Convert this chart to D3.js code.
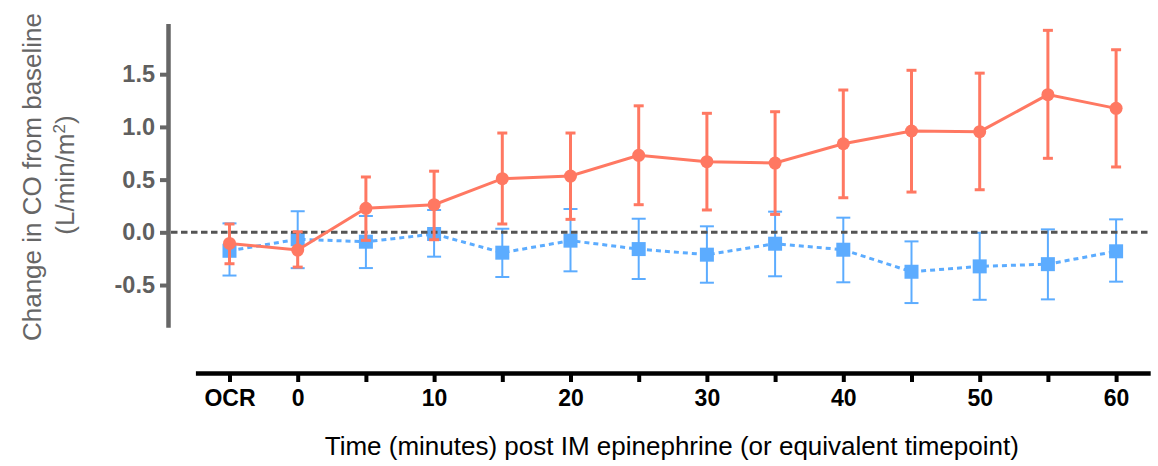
<!DOCTYPE html>
<html>
<head>
<meta charset="utf-8">
<script src="https://cdn.jsdelivr.net/npm/d3@7"></script>
<style>
  html, body { margin: 0; padding: 0; background: #fff; }
  svg { display: block; font-family: Arial, "Liberation Sans", Helvetica, sans-serif; }
</style>
</head>
<body>
<svg id="chart" width="1158" height="466"></svg>
<script>
// Timepoints: OCR, then minutes after IM epinephrine
const categories = ["OCR", "0", "5", "10", "15", "20", "25", "30", "35", "40", "45", "50", "55", "60"];
const tickLabels = ["OCR", "0", "", "10", "", "20", "", "30", "", "40", "", "50", "", "60"];

// Epinephrine group (red, circles): mean change and error bar ends
const epiMean  = [-0.105, -0.168, 0.228, 0.262, 0.509, 0.534, 0.730, 0.670, 0.657, 0.840, 0.961, 0.955, 1.306, 1.176];
const epiUpper = [0.079, 0.005, 0.525, 0.580, 0.942, 0.942, 1.200, 1.129, 1.144, 1.350, 1.537, 1.510, 1.916, 1.732];
const epiLower = [-0.298, -0.330, -0.076, -0.070, 0.079, 0.123, 0.262, 0.212, 0.170, 0.328, 0.382, 0.404, 0.702, 0.620];

// Comparison group (blue, squares, dashed)
const ctlMean  = [-0.175, -0.066, -0.089, -0.016, -0.193, -0.079, -0.159, -0.212, -0.108, -0.165, -0.374, -0.323, -0.302, -0.180];
const ctlUpper = [0.085, 0.200, 0.155, 0.212, 0.034, 0.221, 0.129, 0.057, 0.196, 0.139, -0.086, -0.004, 0.028, 0.123];
const ctlLower = [-0.410, -0.340, -0.339, -0.231, -0.424, -0.370, -0.443, -0.478, -0.417, -0.474, -0.671, -0.640, -0.636, -0.468];

const yTicks = [-0.5, 0, 0.5, 1.0, 1.5];
const yExtent = [-0.9, 1.98];

const RED = "#ff7862";
const BLUE = "#5cacff";
const AXIS_GREY = "#666666";
const FONT = "Arial, 'Liberation Sans', Helvetica, sans-serif";

const svg = d3.select("#chart");

const x = d3.scalePoint().domain(categories).range([195.4, 1150.2]).padding(0.5);
const y = d3.scaleLinear().domain(yExtent).range([327.2, 23.6]);

// ---- Y axis ----
const fmt = d3.format(".1f");
const yAxis = d3.axisLeft(y).tickValues(yTicks)
  .tickFormat(d => fmt(d).replace("\u2212", "-"))
  .tickSize(8).tickSizeOuter(0).tickPadding(5);
const gy = svg.append("g").attr("transform", "translate(168,0)").call(yAxis);
gy.select(".domain").attr("stroke", AXIS_GREY).attr("stroke-width", 4.5);
gy.selectAll(".tick line").attr("stroke", AXIS_GREY).attr("stroke-width", 4);
gy.selectAll(".tick text")
  .attr("fill", "#5f5f5f")
  .attr("font-size", 23.5)
  .attr("font-weight", "bold")
  .attr("font-family", FONT);

// ---- X axis ----
const xAxis = d3.axisBottom(x).tickSize(9).tickSizeOuter(0).tickPadding(8)
  .tickFormat((d, i) => tickLabels[i]);
const gx = svg.append("g").attr("transform", "translate(0,373)").call(xAxis);
gx.select(".domain").attr("stroke", "#000").attr("stroke-width", 4.5);
gx.selectAll(".tick line").attr("stroke", "#000").attr("stroke-width", 4);
gx.selectAll(".tick text")
  .attr("fill", "#000")
  .attr("font-size", 23)
  .attr("font-weight", "bold")
  .attr("font-family", FONT);

// ---- Axis titles ----
const yTitle = svg.append("text")
  .attr("transform", "translate(41,177) rotate(-90)")
  .attr("text-anchor", "middle")
  .attr("fill", AXIS_GREY)
  .attr("font-size", 26);
yTitle.append("tspan").attr("x", 0).attr("y", 0).text("Change in CO from baseline");
const yTitle2 = svg.append("text")
  .attr("transform", "translate(74,175) rotate(-90)")
  .attr("text-anchor", "middle")
  .attr("fill", AXIS_GREY)
  .attr("font-size", 26);
yTitle2.append("tspan").text("(L/min/m");
yTitle2.append("tspan").attr("font-size", 17).attr("dy", -9).text("2");
yTitle2.append("tspan").attr("dy", 9).text(")");

svg.append("text")
  .attr("x", x.range()[0] + (x.range()[1] - x.range()[0]) / 2 - 1)
  .attr("y", 455)
  .attr("text-anchor", "middle")
  .attr("fill", "#000")
  .attr("font-size", 26)
  .text("Time (minutes) post IM epinephrine (or equivalent timepoint)");

// ---- Comparison group (drawn beneath) ----
const ctl = categories.map((c, i) => ({ c, m: ctlMean[i], lo: ctlLower[i], hi: ctlUpper[i] }));
const epi = categories.map((c, i) => ({ c, m: epiMean[i], lo: epiLower[i], hi: epiUpper[i] }));

const line = d3.line().x(d => x(d.c)).y(d => y(d.m));

const gCtl = svg.append("g");
gCtl.append("path").datum(ctl)
  .attr("d", line)
  .attr("fill", "none")
  .attr("stroke", BLUE)
  .attr("stroke-width", 3)
  .attr("stroke-dasharray", "5,4");
const ctlErr = gCtl.selectAll("g.err").data(ctl).join("g").attr("class", "err");
ctlErr.append("line")
  .attr("x1", d => x(d.c)).attr("x2", d => x(d.c))
  .attr("y1", d => y(d.lo)).attr("y2", d => y(d.hi))
  .attr("stroke", BLUE).attr("stroke-width", 2);
ctlErr.append("line")
  .attr("x1", d => x(d.c) - 7).attr("x2", d => x(d.c) + 7)
  .attr("y1", d => y(d.hi)).attr("y2", d => y(d.hi))
  .attr("stroke", BLUE).attr("stroke-width", 2);
ctlErr.append("line")
  .attr("x1", d => x(d.c) - 7).attr("x2", d => x(d.c) + 7)
  .attr("y1", d => y(d.lo)).attr("y2", d => y(d.lo))
  .attr("stroke", BLUE).attr("stroke-width", 2);
gCtl.selectAll("rect").data(ctl).join("rect")
  .attr("x", d => x(d.c) - 7).attr("y", d => y(d.m) - 7)
  .attr("width", 14).attr("height", 14)
  .attr("fill", BLUE);

// ---- Zero reference line ----
svg.append("line")
  .attr("x1", 171).attr("x2", x.range()[1])
  .attr("y1", y(0)).attr("y2", y(0))
  .attr("stroke", "#555")
  .attr("stroke-width", 3)
  .attr("stroke-dasharray", "6.5,3.5");

// ---- Epinephrine group ----
const gEpi = svg.append("g");
gEpi.append("path").datum(epi)
  .attr("d", line)
  .attr("fill", "none")
  .attr("stroke", RED)
  .attr("stroke-width", 3);
const epiErr = gEpi.selectAll("g.err").data(epi).join("g").attr("class", "err");
epiErr.append("line")
  .attr("x1", d => x(d.c)).attr("x2", d => x(d.c))
  .attr("y1", d => y(d.lo)).attr("y2", d => y(d.hi))
  .attr("stroke", RED).attr("stroke-width", 3);
epiErr.append("line")
  .attr("x1", d => x(d.c) - 5).attr("x2", d => x(d.c) + 5)
  .attr("y1", d => y(d.hi)).attr("y2", d => y(d.hi))
  .attr("stroke", RED).attr("stroke-width", 3);
epiErr.append("line")
  .attr("x1", d => x(d.c) - 5).attr("x2", d => x(d.c) + 5)
  .attr("y1", d => y(d.lo)).attr("y2", d => y(d.lo))
  .attr("stroke", RED).attr("stroke-width", 3);
gEpi.selectAll("circle").data(epi).join("circle")
  .attr("cx", d => x(d.c)).attr("cy", d => y(d.m))
  .attr("r", 6.5)
  .attr("fill", RED);
</script>
</body>
</html>
